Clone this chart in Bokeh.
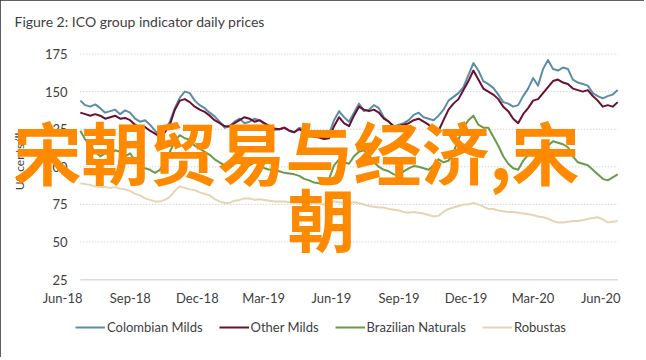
import math
import pandas as pd
from bokeh.plotting import figure
from bokeh.models import Range1d, FixedTicker, Legend, LegendItem, Label
from bokeh.embed import file_html
from bokeh.resources import INLINE

# ---- data -------------------------------------------------------------
dates = pd.date_range("2018-06-25", "2020-06-24", periods=109)

colombian_milds = [144, 141, 140, 141.5, 139, 136, 137, 138, 135, 137.5,
                   136, 132, 130, 131, 128, 124, 121, 125, 130, 139,
                   146, 150, 149, 144, 141, 139, 136, 133.5, 130, 126,
                   127, 130, 132, 129, 130, 132, 131, 128.5, 127, 124.5,
                   125, 126, 124, 123, 126, 124, 122, 120.5, 120, 119,
                   122, 131, 137, 133, 130, 136, 142, 137, 138, 141,
                   139, 133, 130, 126.5, 128, 129, 131, 134.5, 136, 133,
                   132, 131, 134, 138, 144, 146.5, 149, 153, 161, 169,
                   164, 157, 155, 152.5, 148, 143, 142, 140, 141, 147,
                   152, 159, 154, 165, 171, 165, 164, 166, 165, 158,
                   156, 155, 154, 149, 147, 145.5, 147, 148, 151]
other_milds = [136, 135, 134, 135, 134, 132, 133, 134, 132, 132.5,
               131, 128, 126, 126.5, 124, 122, 120, 123, 128, 138,
               144, 145, 143, 140, 138, 136.5, 134, 131, 129, 127,
               127, 129, 131, 133, 132, 130, 131, 129, 127, 125.5,
               125, 126, 124, 123, 125, 123, 121, 120, 119.5, 118.5,
               119, 127, 133, 129, 127, 134, 140, 138, 137, 138,
               136, 132, 130, 127, 127, 128, 129, 131, 132, 130,
               128, 125, 124, 131, 138, 142, 145, 151, 157, 164,
               158, 152, 150, 148, 145, 140, 137, 132, 129, 135,
               139, 144, 145, 149, 153, 157, 158, 156, 155, 152,
               151, 150, 151, 147, 144, 140, 141, 140, 143]
brazilian_naturals = [124, 118, 114, 110, 107, 109, 108, 111, 110, 107,
                      109, 104, 101, 99, 98, 96, 98, 103, 110, 117,
                      121, 119, 118, 114, 112, 110, 108, 105, 103, 101,
                      100, 102, 103, 100, 101, 103, 102, 99, 98, 98.5,
                      97, 96, 95.5, 95, 94, 92, 91, 89.5, 89, 90,
                      92, 101, 105, 103, 102, 107, 110, 111, 108, 103,
                      100, 98, 97, 95, 94, 97, 99, 100.5, 100, 99,
                      98, 101, 105, 103, 104, 110, 118, 126, 131, 134,
                      128, 126, 126, 120, 114, 107, 102, 99, 98, 104,
                      108, 109, 110, 112, 114, 117, 116, 115, 113, 107,
                      103, 102, 101, 98, 95, 92, 91, 93, 95]
robustas = [89, 88.5, 88, 87, 86.5, 86.5, 86, 86.5, 85.5, 85,
            84, 82, 81, 79, 78, 77, 77, 78, 80, 84,
            87, 86, 85, 84.5, 83, 82, 81, 78.5, 77, 76,
            76, 77.5, 78, 79, 79, 78, 78.5, 78, 77.5, 77,
            77, 77, 76.5, 76, 76, 75, 75.5, 76, 75.5, 75,
            76, 77, 76.5, 76, 75.5, 76.5, 76, 75, 74, 73.5,
            73, 73, 72, 71.5, 71, 70, 69.5, 70, 69.5, 69,
            68, 67, 67.5, 70, 72, 73, 74, 75, 75, 76,
            75, 73.5, 72, 72, 71, 70.5, 70, 70, 69.5, 69,
            68.5, 68, 67, 66.5, 65.5, 64, 63, 63, 63.5, 64,
            64, 64.5, 65.5, 66, 66.5, 65, 63, 63.5, 64]

series_names = ["Colombian Milds", "Other Milds", "Brazilian Naturals", "Robustas"]
series_colors = ["#5b8ea6", "#6b1030", "#6a9a4a", "#e4d5b4"]

y_ticks = [25, 50, 75, 100, 125, 150, 175]
x_tick_dates = ["2018-06-01", "2018-09-01", "2018-12-01", "2019-03-01", "2019-06-01",
                "2019-09-01", "2019-12-01", "2020-03-01", "2020-06-01"]
x_tick_labels = ["Jun-18", "Sep-18", "Dec-18", "Mar-19", "Jun-19",
                 "Sep-19", "Dec-19", "Mar-20", "Jun-20"]

title_text = "Figure 2: ICO group indicator daily prices"
y_axis_title = "US cents/lb"
watermark_lines = ["宋朝贸易与经济,宋", "朝"]

# ---- figure -----------------------------------------------------------
FONT = "Lato"
TEXT = "#404040"

x_ms = [int(pd.Timestamp(d).value // 10**6) for d in x_tick_dates]

p = figure(width=644, height=357, x_axis_type="datetime",
           x_range=Range1d(pd.Timestamp("2018-03-14"), pd.Timestamp("2020-07-25")),
           y_range=Range1d(-24.1, 207.9),
           output_backend="svg", toolbar_location=None,
           min_border_left=4, min_border_right=4,
           min_border_top=4, min_border_bottom=4)
p.outline_line_color = None
p.background_fill_color = "white"
p.border_fill_color = "white"
p.xgrid.visible = False
p.ygrid.visible = False
p.styles = {"outline": "2px solid #2b2b2b", "outline-offset": "-2px"}

# axes
xa = p.xaxis[0]
xa.fixed_location = y_ticks[0]
xa.ticker = FixedTicker(ticks=x_ms)
xa.major_label_overrides = {k: v for k, v in zip(x_ms, x_tick_labels)}
xa.axis_line_color = None
xa.major_tick_line_color = None
xa.minor_tick_line_color = None
xa.major_tick_out = 0
xa.major_label_standoff = 10
xa.major_label_text_font = FONT
xa.major_label_text_font_size = "13px"
xa.major_label_text_color = TEXT

ya = p.yaxis[0]
ya.ticker = FixedTicker(ticks=y_ticks)
ya.axis_line_color = None
ya.major_tick_line_color = None
ya.minor_tick_line_color = None
ya.major_tick_out = 0
ya.major_label_standoff = -63
ya.major_label_text_font = FONT
ya.major_label_text_font_size = "13px"
ya.major_label_text_color = TEXT

# gridlines limited to the data span
n = len(y_ticks)
p.segment(x0=[dates[0]] * (n - 1), x1=[dates[-1]] * (n - 1), y0=y_ticks[1:], y1=y_ticks[1:],
          line_color="#c4c4c4", line_width=1, line_dash="1 2")
p.segment(x0=[dates[0]], x1=[dates[-1]], y0=y_ticks[:1], y1=y_ticks[:1],
          line_color="#d9d9d9", line_width=1.5)

# series
values = [colombian_milds, other_milds, brazilian_naturals, robustas]
renderers = {}
for idx in [3, 2, 0, 1]:
    renderers[idx] = p.line(dates, values[idx], line_color=series_colors[idx],
                            line_width=2, line_join="round")

legend = Legend(items=[LegendItem(label=series_names[i], renderers=[renderers[i]]) for i in range(4)],
                orientation="horizontal", location=(71, 18),
                label_text_font=FONT, label_text_font_size="13px", label_text_color=TEXT,
                glyph_width=30, glyph_height=16, label_standoff=2, spacing=16,
                padding=0, margin=0, border_line_color=None, background_fill_alpha=0)
p.add_layout(legend)

# chart title and value-axis title
p.add_layout(Label(x=10, y=332, x_units="screen", y_units="screen", text=title_text,
                   text_font=FONT, text_font_size="14px", text_color=TEXT,
                   text_baseline="middle", text_align="left"))
p.add_layout(Label(x=14.5, y=194, x_units="screen", y_units="screen", text=y_axis_title,
                   angle=math.pi / 2, text_font=FONT, text_font_size="12px", text_color=TEXT,
                   text_baseline="middle", text_align="center"))

# watermark
p.add_layout(Label(x=9, y=203, x_units="screen", y_units="screen", text=watermark_lines[0],
                   text_font="Noto Sans CJK SC", text_font_size="68px", text_font_style="bold",
                   text_color="#ff8a00", text_baseline="middle", text_align="left", level="overlay"))
p.add_layout(Label(x=283, y=136, x_units="screen", y_units="screen", text=watermark_lines[1],
                   text_font="Noto Sans CJK SC", text_font_size="68px", text_font_style="bold",
                   text_color="#ff8a00", text_baseline="middle", text_align="left", level="overlay"))

open("out.html", "w").write(file_html(p, INLINE))
